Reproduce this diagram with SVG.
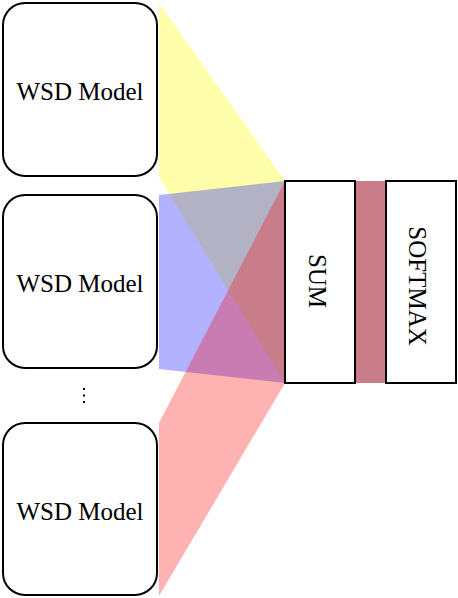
<svg xmlns="http://www.w3.org/2000/svg" width="458" height="598" viewBox="0 0 458 598">
<style>
.box{fill:#fff;stroke:#000;stroke-width:2}
.lbl{font-family:"Liberation Serif","Times New Roman",serif;font-size:25px;fill:#000}
</style>
<rect width="458" height="598" fill="#fff"/>
<g id="connectors">
<polygon points="159,3 285,181 285,383 159,177" fill="#ffff00" fill-opacity="0.33"/>
<polygon points="159,195 285,181 285,383 159,369" fill="#0000ff" fill-opacity="0.3"/>
<polygon points="159,423 285,181 285,383 159,596" fill="#ff0000" fill-opacity="0.3"/>
<rect x="355" y="181" width="31" height="202" fill="#c97d89"/>
</g>
<g id="wsd1">
<rect class="box" x="3" y="3" width="154" height="173" rx="22"/>
<text class="lbl" x="80" y="100" text-anchor="middle">WSD Model</text>
</g>
<g id="wsd2">
<rect class="box" x="3" y="195" width="154" height="173" rx="22"/>
<text class="lbl" x="80" y="292" text-anchor="middle">WSD Model</text>
</g>
<g id="dots">
<rect x="83" y="388" width="2" height="2" fill="#000"/>
<rect x="83" y="394.5" width="2" height="2" fill="#000"/>
<rect x="83" y="401" width="2" height="2" fill="#000"/>
</g>
<g id="wsd3">
<rect class="box" x="3" y="423" width="154" height="172" rx="22"/>
<text class="lbl" x="80" y="520" text-anchor="middle">WSD Model</text>
</g>
<g id="sum">
<rect class="box" x="285" y="181" width="70" height="202"/>
<text class="lbl" transform="translate(309,281) rotate(90)" text-anchor="middle">SUM</text>
</g>
<g id="softmax">
<rect class="box" x="386" y="181" width="70" height="202"/>
<text class="lbl" transform="translate(409,286) rotate(90)" text-anchor="middle">SOFTMAX</text>
</g>
</svg>
